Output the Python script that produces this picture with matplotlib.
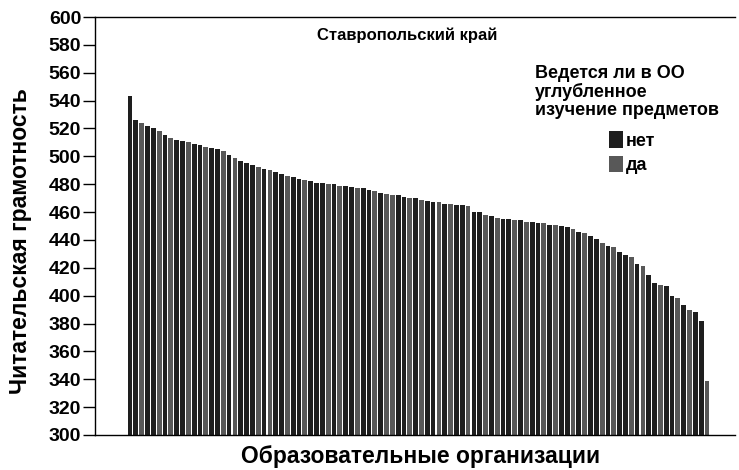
import numpy as np
import matplotlib
matplotlib.use("Agg")
import matplotlib.pyplot as plt
from matplotlib.patches import Patch

plt.rcParams['font.family'] = ['Liberation Sans', 'DejaVu Sans']

# средний балл по читательской грамотности, отсортировано по убыванию
scores = [543, 526, 524, 522, 520, 518, 515, 513, 512, 511,
          510, 509, 508, 507, 506, 505, 504, 501, 499, 497,
          495, 494, 492, 491, 490, 489, 487, 486, 485, 484,
          483, 482, 481, 481, 480, 480, 479, 479, 478, 477,
          477, 476, 475, 474, 473, 472, 472, 471, 470, 470,
          469, 468, 467, 467, 466, 466, 465, 465, 464, 460,
          460, 458, 457, 456, 455, 455, 454, 454, 453, 453,
          452, 452, 451, 451, 450, 449, 448, 446, 445, 443,
          441, 438, 436, 435, 431, 429, 428, 423, 421, 415,
          409, 408, 407, 400, 398, 393, 390, 388, 382, 339]

# углубленное изучение предметов (1 - да, 0 - нет)
deep = [0, 0, 1, 0, 0, 1, 0, 1, 0, 0,
        1, 0, 0, 1, 0, 0, 1, 0, 1, 0,
        0, 0, 1, 0, 1, 0, 0, 1, 0, 0,
        1, 0, 0, 0, 1, 0, 1, 0, 0, 1,
        0, 0, 1, 0, 1, 1, 0, 0, 1, 0,
        1, 0, 0, 1, 0, 1, 0, 0, 1, 0,
        0, 1, 0, 1, 0, 0, 1, 0, 1, 0,
        0, 1, 0, 1, 0, 0, 1, 0, 1, 0,
        0, 1, 0, 1, 0, 0, 1, 0, 1, 0,
        0, 1, 0, 0, 1, 0, 1, 0, 0, 1]

col_no = '#1e1e1e'
col_yes = '#585858'

fig = plt.figure(figsize=(7.39, 4.70), dpi=100)
ax = fig.add_axes([0.1286, 0.0745, 0.866, 0.8893])

x = np.arange(len(scores))
colors = [col_yes if d else col_no for d in deep]
ax.bar(x, np.array(scores) - 300, bottom=300, width=0.82, color=colors, linewidth=0)

ax.set_ylim(300, 600)
ax.set_xlim(-6, 103.8)
ax.set_yticks(np.arange(300, 601, 20))
ax.set_xticks([])
ax.tick_params(axis='y', direction='out', length=9, width=1, labelsize=14, pad=1)
for lab in ax.get_yticklabels():
    lab.set_fontweight('bold')
ax.spines['right'].set_visible(False)
for s in ['left', 'top', 'bottom']:
    ax.spines[s].set_linewidth(1)

ax.set_ylabel('Читательская грамотность', fontsize=16.5, fontweight='bold')
ax.yaxis.set_label_coords(-0.098, 0.465)
ax.set_xlabel('Образовательные организации', fontsize=16.5, fontweight='bold')
ax.xaxis.set_label_coords(0.508, -0.025)

ax.text(0.487, 0.975, 'Ставропольский край', transform=ax.transAxes,
        ha='center', va='top', fontsize=12, fontweight='bold')
ax.text(0.688, 0.885, 'Ведется ли в ОО\nуглубленное\nизучение предметов', transform=ax.transAxes,
        ha='left', va='top', fontsize=13, fontweight='bold', linespacing=1.08)

handles = [Patch(facecolor=col_no, label='нет'), Patch(facecolor=col_yes, label='да')]
leg = ax.legend(handles=handles, loc='upper left', bbox_to_anchor=(0.778, 0.765),
                frameon=False, handlelength=0.75, handleheight=1.0, handletextpad=0.15,
                labelspacing=0.35, prop={'weight': 'bold', 'size': 13})

fig.savefig('out.png', dpi=100)
